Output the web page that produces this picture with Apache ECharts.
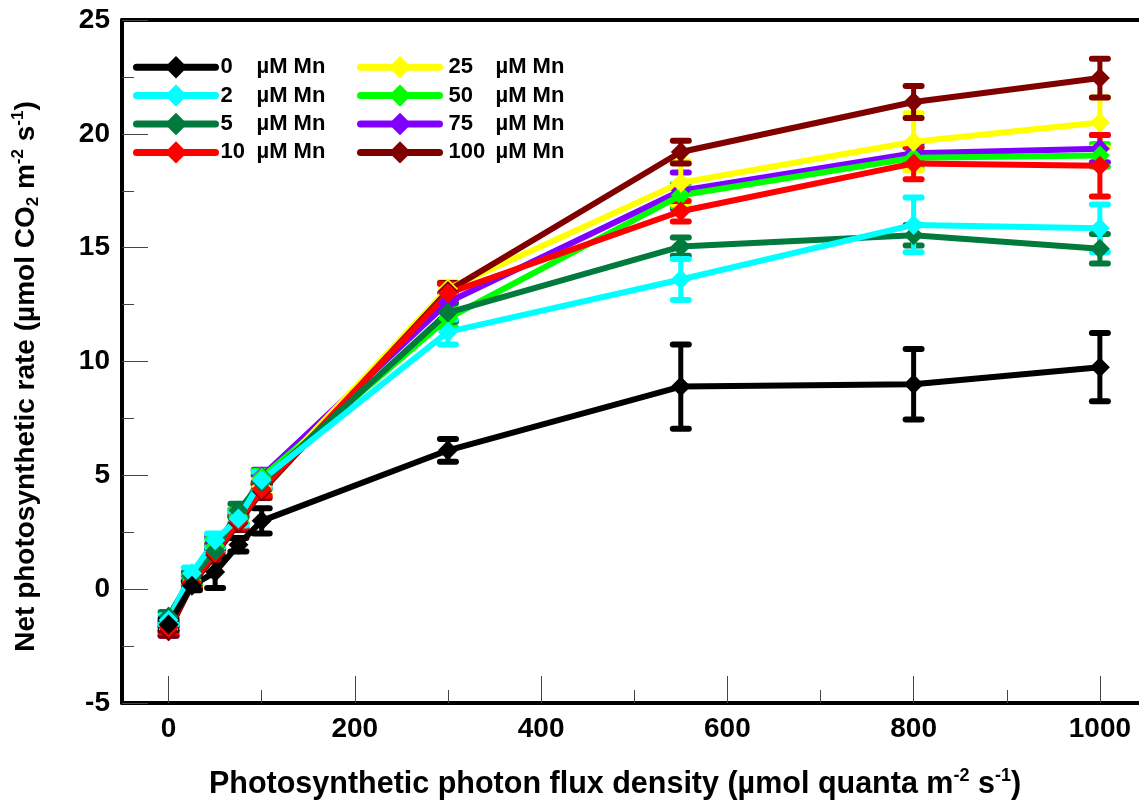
<!DOCTYPE html>
<html>
<head>
<meta charset="utf-8">
<script src="https://cdn.jsdelivr.net/npm/echarts@6/dist/echarts.min.js"></script>
<style>
html,body{margin:0;padding:0;background:#fff;}
#chart{width:1139px;height:802px;}
</style>
</head>
<body>
<div id="chart"></div>
<script>
// ---- data ----
const xVals = [0, 25, 50, 75, 100, 300, 550, 800, 1000];
const seriesNames = ['0', '2', '5', '10', '25', '50', '75', '100'];
const mn0    = [-1.55, 0.15, 0.75, 1.95, 3.0, 6.1, 8.9, 9.0, 9.75];
const mn0Err = [0.25, 0.2, 0.7, 0.3, 0.55, 0.5, 1.85, 1.55, 1.5];
const mn2    = [-1.35, 0.7, 2.15, 3.1, 4.8, 11.3, 13.6, 16.0, 15.85];
const mn2Err = [0.2, 0.25, 0.3, 0.3, 0.35, 0.55, 0.9, 1.2, 1.05];
const mn5    = [-1.2, 0.55, 1.7, 3.45, 4.7, 12.15, 15.05, 15.55, 14.95];
const mn5Err = [0.2, 0.2, 0.3, 0.3, 0.3, 0.4, 0.4, 0.45, 0.65];
const mn10    = [-1.7, 0.3, 1.6, 3.0, 4.4, 13.0, 16.6, 18.7, 18.6];
const mn10Err = [0.2, 0.2, 0.3, 0.3, 0.3, 0.4, 0.45, 0.7, 1.35];
const mn25    = [-1.75, 0.3, 1.7, 3.0, 4.5, 13.2, 17.85, 19.65, 20.5];
const mn25Err = [0.2, 0.2, 0.3, 0.3, 0.3, 0.3, 0.95, 1.25, 1.1];
const mn50    = [-1.6, 0.4, 1.9, 3.2, 4.9, 11.9, 17.3, 18.95, 19.05];
const mn50Err = [0.2, 0.2, 0.3, 0.3, 0.3, 0.4, 0.5, 0.45, 0.5];
const mn75    = [-1.85, 0.4, 2.0, 3.2, 4.95, 12.6, 17.5, 19.15, 19.35];
const mn75Err = [0.2, 0.2, 0.3, 0.3, 0.3, 0.4, 0.8, 0.4, 0.6];
const mn100    = [-1.85, 0.2, 1.5, 2.9, 4.3, 13.1, 19.2, 21.4, 22.45];
const mn100Err = [0.2, 0.2, 0.3, 0.3, 0.3, 0.35, 0.5, 0.7, 0.85];
const xTickLabels = [0, 200, 400, 600, 800, 1000];
const xMinorTicks = [100, 300, 500, 700, 900];

const colors = {
  '0': '#000000', '2': '#00FFFF', '5': '#007A3D', '10': '#FF0000',
  '25': '#FFFF00', '50': '#00FF00', '75': '#8000FF', '100': '#800000'
};
const values = { '0': mn0, '2': mn2, '5': mn5, '10': mn10, '25': mn25, '50': mn50, '75': mn75, '100': mn100 };
const errs = { '0': mn0Err, '2': mn2Err, '5': mn5Err, '10': mn10Err, '25': mn25Err, '50': mn50Err, '75': mn75Err, '100': mn100Err };
// drawing order, bottom to top
const drawOrder = ['75', '50', '25', '100', '10', '5', '2', '0'];

const FONT = 'Liberation Sans, Arial, Helvetica, sans-serif';

function errRender(color) {
  return function (params, api) {
    const x = api.value(0), y = api.value(1), e = api.value(2);
    const top = api.coord([x, y + e]);
    const bot = api.coord([x, y - e]);
    const hw = 8;
    const st = { stroke: color, lineWidth: 5, lineCap: 'round' };
    const cst = { stroke: color, lineWidth: 6, lineCap: 'round' };
    return {
      type: 'group',
      children: [
        { type: 'line', shape: { x1: top[0], y1: top[1], x2: bot[0], y2: bot[1] }, style: st },
        { type: 'line', shape: { x1: top[0] - hw, y1: top[1], x2: top[0] + hw, y2: top[1] }, style: cst },
        { type: 'line', shape: { x1: bot[0] - hw, y1: bot[1], x2: bot[0] + hw, y2: bot[1] }, style: cst }
      ]
    };
  };
}

const series = [];
drawOrder.forEach(function (name) {
  const c = colors[name];
  series.push({
    type: 'custom',
    name: name + '_err',
    renderItem: errRender(c),
    data: xVals.map((x, i) => [x, values[name][i], errs[name][i]]),
    encode: { x: 0, y: 1 },
    silent: true,
    z: 2
  });
  series.push({
    type: 'line',
    name: name,
    data: xVals.map((x, i) => [x, values[name][i]]),
    symbol: 'diamond',
    symbolSize: 20,
    showSymbol: true,
    lineStyle: { color: c, width: 6, cap: 'round', join: 'round' },
    itemStyle: { color: c, borderWidth: 0 },
    z: 2
  });
});

const legendText = {
  fontFamily: FONT, fontSize: 22, fontWeight: 'bold', color: '#000'
};

function makeLegend(names, left, numWidth, padLeft) {
  return {
    data: names,
    orient: 'vertical', left: left, top: 56,
    itemWidth: 79, itemHeight: 28, itemGap: 6, padding: 0,
    lineStyle: { width: 7, cap: 'round' },
    formatter: n => '{n|' + n + '}{u|µM Mn}',
    textStyle: Object.assign({}, legendText, {
      rich: {
        n: Object.assign({}, legendText, { width: numWidth, padding: [0, 0, 0, padLeft] }),
        u: Object.assign({}, legendText)
      }
    })
  };
}

const option = {
  animation: false,
  backgroundColor: '#fff',
  textStyle: { fontFamily: FONT },
  grid: { left: 122, top: 20, bottom: 99, right: 0, containLabel: false, outerBoundsMode: 'none' },
  legend: [
    makeLegend(['0', '2', '5', '10'], 133, 36, 0),
    makeLegend(['25', '50', '75', '100'], 357, 47, 4)
  ],
  xAxis: [
    {
      type: 'value', min: -50, max: 1042, position: 'bottom',
      axisLine: { show: true, onZero: false, lineStyle: { color: '#000', width: 4 } },
      axisTick: { show: true, inside: true, length: 27, customValues: xTickLabels, lineStyle: { color: '#444', width: 1 } },
      axisLabel: { show: true, customValues: xTickLabels, formatter: v => String(v), margin: 12, fontSize: 28, fontWeight: 'bold', color: '#000', fontFamily: FONT },
      splitLine: { show: false },
      name: '{b|Photosynthetic photon flux density (µmol quanta m}{sup|-2}{b| s}{sup|-1}{b|)}',
      nameLocation: 'middle', nameGap: 64,
      nameTextStyle: {
        padding: [0, 31, 0, 0],
        rich: {
          b: { fontSize: 30.5, fontWeight: 'bold', color: '#000', fontFamily: FONT, lineHeight: 35 },
          sup: { fontSize: 18, fontWeight: 'bold', color: '#000', fontFamily: FONT, verticalAlign: 'top', lineHeight: 20 }
        }
      }
    },
    {
      type: 'value', min: -50, max: 1042, position: 'bottom',
      axisLine: { show: false, onZero: false },
      axisTick: { show: true, inside: true, length: 13, customValues: xMinorTicks, lineStyle: { color: '#444', width: 1 } },
      axisLabel: { show: false },
      splitLine: { show: false }
    },
    {
      type: 'value', min: -50, max: 1042, position: 'top',
      axisLine: { show: true, onZero: false, lineStyle: { color: '#000', width: 4 } },
      axisTick: { show: false },
      axisLabel: { show: false },
      splitLine: { show: false }
    }
  ],
  yAxis: {
    type: 'value', min: -5, max: 25, interval: 5,
    axisLine: { show: true, onZero: false, lineStyle: { color: '#000', width: 4 } },
    axisTick: { show: true, inside: true, length: 26, lineStyle: { color: '#444', width: 1 } },
    minorTick: { show: true, splitNumber: 2, length: 12, lineStyle: { color: '#444', width: 1 } },
    axisLabel: { margin: 12, fontSize: 28, fontWeight: 'bold', color: '#000', fontFamily: FONT },
    splitLine: { show: false },
    name: '{b|Net photosynthetic rate (µmol CO}{sub|2}{b| m}{sup|-2}{b| s}{sup|-1}{b|)}',
    nameLocation: 'middle', nameGap: 80, nameRotate: 90,
    nameTextStyle: {
      padding: [0, 30, 0, 0],
      rich: {
        b: { fontSize: 28, fontWeight: 'bold', color: '#000', fontFamily: FONT, lineHeight: 32 },
        sup: { fontSize: 17, fontWeight: 'bold', color: '#000', fontFamily: FONT, verticalAlign: 'top', lineHeight: 19 },
        sub: { fontSize: 17, fontWeight: 'bold', color: '#000', fontFamily: FONT, verticalAlign: 'bottom', lineHeight: 19 }
      }
    }
  },
  series: series
};

const chart = echarts.init(document.getElementById('chart'), null, { renderer: 'canvas' });
chart.setOption(option);
</script>
</body>
</html>
